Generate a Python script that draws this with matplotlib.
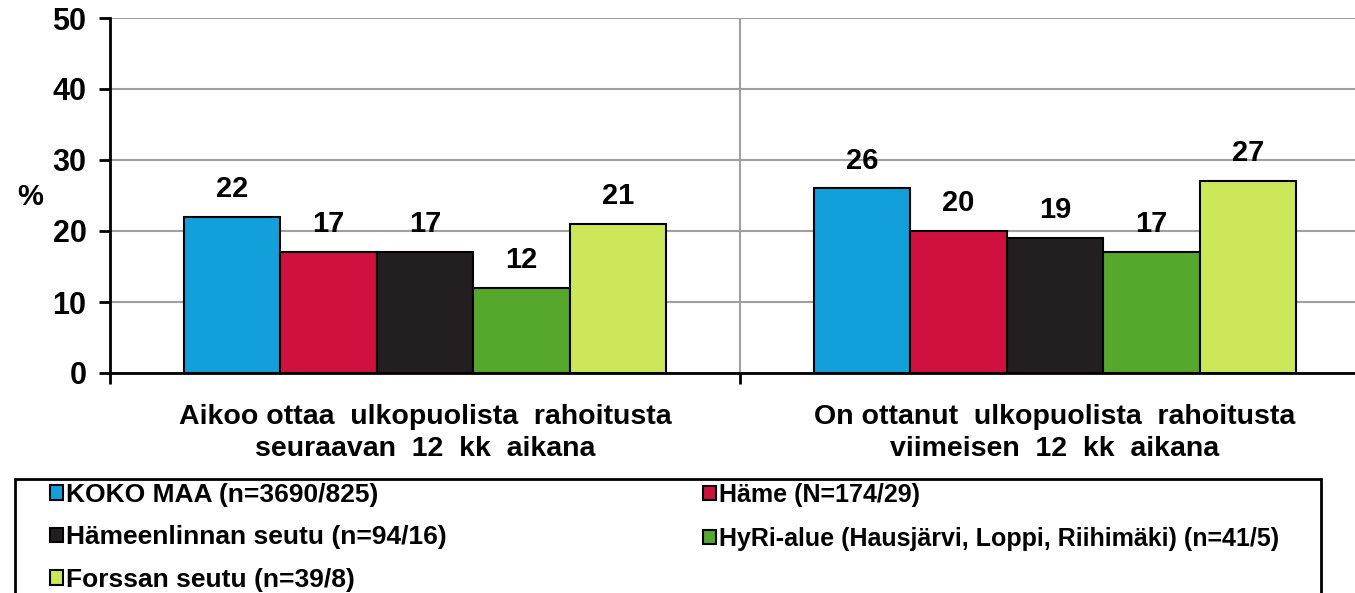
import matplotlib as mpl
mpl.use('Agg')
import matplotlib.pyplot as plt
from matplotlib.patches import Patch, Rectangle
import numpy as np

plt.rcParams['font.family'] = ['Liberation Sans', 'DejaVu Sans']
plt.rcParams['font.weight'] = 'bold'

# data
categories = ["Aikoo ottaa  ulkopuolista  rahoitusta\nseuraavan  12  kk  aikana",
              "On ottanut  ulkopuolista  rahoitusta\nviimeisen  12  kk  aikana"]
series_names = ["KOKO MAA (n=3690/825)", "Häme (N=174/29)",
                "Hämeenlinnan seutu (n=94/16)",
                "HyRi-alue (Hausjärvi, Loppi, Riihimäki) (n=41/5)",
                "Forssan seutu (n=39/8)"]
koko_maa = [22, 26]
hame = [17, 20]
hameenlinna = [17, 19]
hyri = [12, 17]
forssa = [21, 27]
colors = ['#129FDA', '#D01140', '#231F20', '#56A82C', '#CCE75A']

values = [koko_maa, hame, hameenlinna, hyri, forssa]

W, H = 1355, 593
fig = plt.figure(figsize=(W / 100, H / 100), dpi=100)
ax = fig.add_axes([110 / W, 1 - 373 / H, 1260 / W, 355 / H])

x = np.arange(len(categories))
bw = 0.153
for i, vals in enumerate(values):
    pos = x + (i - 2) * bw
    ax.bar(pos, vals, bw, color=colors[i], edgecolor='black', linewidth=1.5, zorder=3)
    for p, v in zip(pos, vals):
        ax.annotate(str(v), (p, v), xytext=(0, 10), textcoords='offset points',
                    ha='center', va='bottom', fontsize=21, fontweight='bold')

ax.set_xlim(-0.5, 1.5)
ax.set_ylim(0, 50)
ax.set_yticks(range(0, 51, 10))
ax.tick_params(axis='y', labelsize=22, width=2, length=8, direction='out', pad=9)
ax.set_xticks([-0.5, 0.5, 1.5])
ax.set_xticklabels([])
ax.tick_params(axis='x', width=2, length=8, direction='out')
ax.yaxis.grid(True, color='#a0a0a0', linewidth=1.5, zorder=0)
ax.axvline(0.5, color='#a0a0a0', linewidth=1.5, zorder=0)
for s in ['top', 'right']:
    ax.spines[s].set_visible(False)
for s in ['left', 'bottom']:
    ax.spines[s].set_linewidth(2)
    ax.spines[s].set_zorder(4)

for xi, lab in zip(x, categories):
    ax.text(xi, -4.3, lab, ha='center', va='top', fontsize=20.5, fontweight='bold',
            linespacing=1.3, transform=ax.transData)

fig.text(30 / W, 1 - 197 / H, '%', ha='center', va='center', fontsize=21, fontweight='bold')

# legend box
fig.add_artist(Rectangle((15 / W, -0.05), (1321 - 15) / W, 1 - 479 / H + 0.05,
                         transform=fig.transFigure, fill=False, edgecolor='black', linewidth=2))

handles = [Patch(facecolor=c, edgecolor='black', linewidth=1.5) for c in colors]
cols = [[0, 2, 4], [1, 3]]
xs = [50, 703]
sizes = [19, 18]
for col, xl, fs in zip(cols, xs, sizes):
    fig.legend([handles[i] for i in col], [series_names[i] for i in col],
               loc='upper left', bbox_to_anchor=(xl / W, 1 - 483 / H),
               frameon=False, handlelength=0.48 * 19 / fs, handleheight=0.48 * 19 / fs,
               handletextpad=0.12, labelspacing=0.7 * 19 / fs + (19 - fs) * 0.05,
               borderpad=0, borderaxespad=0,
               prop={'weight': 'bold', 'size': fs})

fig.savefig('out.png', dpi=100)
